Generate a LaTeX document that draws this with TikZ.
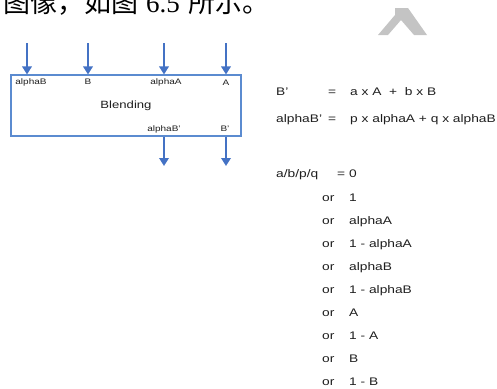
\documentclass[tikz,border=0pt]{standalone}
\usepackage{fontspec}
\setmainfont{Liberation Sans}[FakeStretch=1.25]
\newfontfamily\cjk{Noto Sans CJK SC}
\newfontfamily\numserif{Liberation Serif}
\usetikzlibrary{arrows.meta}
\definecolor{arrowblue}{HTML}{4472C4}
\definecolor{boxblue}{HTML}{5B8BD0}
\definecolor{txt}{HTML}{1E1E1E}
\definecolor{wmgray}{HTML}{C4C4C4}
\begin{document}
\begin{tikzpicture}[x=1pt,y=-1pt,
  flow/.style={draw=arrowblue, line width=1.8pt, -{Triangle[width=9.5pt,length=8pt]}},
  port/.style={font=\fontsize{8}{8}\selectfont, text=txt, inner sep=0pt, anchor=base},
  eq/.style={font=\fontsize{11}{11}\selectfont, text=txt, inner sep=0pt, anchor=base west},
  blendbox/.style={draw=boxblue, line width=1.1pt, minimum width=230pt, minimum height=61pt, inner sep=0pt, text=txt, font=\fontsize{10.5}{10.5}\selectfont}]
\useasboundingbox (0,0) rectangle (497,388);
\begin{scope}
  \clip (0,0) rectangle (497,388);
  \node[anchor=base west, inner sep=0pt, font=\cjk\fontsize{27}{27}\selectfont, text=black] (cap) at (3,12.5) {图像，如图\hspace{8pt}{\numserif 6.5}\hspace{9pt}所示。};
  \fill[wmgray] (395,8) -- (408,8) -- (427,35) -- (414,35) -- (401,20) -- (388,35) -- (378,35) -- (395,15) -- cycle;
\end{scope}
% blending box
\node[blendbox] (blend) at (126,105.5) {Blending};
\node[port] (pAlphaB) at (31,84) {alphaB};
\node[port] (pB) at (88,84) {B};
\node[port] (pAlphaA) at (166,84) {alphaA};
\node[port] (pA) at (226,85.5) {A};
\node[port] (pAlphaBo) at (164,131) {alphaB'};
\node[port] (pBo) at (225,131) {B'};
% inputs
\coordinate (iAlphaB) at (27,43);
\coordinate (iB) at (88,43);
\coordinate (iAlphaA) at (164,43);
\coordinate (iA) at (226,43);
\foreach \c in {iAlphaB,iB,iAlphaA,iA}
  \draw[flow] (\c) -- (\c |- blend.north);
% outputs
\coordinate (oAlphaB) at (164,166);
\coordinate (oB) at (226,166);
\foreach \c in {oAlphaB,oB}
  \draw[flow] (\c |- blend.south) -- (\c);
% equations
\node[eq] (e1l) at (276,95) {B'};
\node[eq] (e1m) at (328,95) {=};
\node[eq] (e1r) at (350,95) {a x A\ \ +\ \ b x B};
\node[eq] (e2l) at (276,122) {alphaB'};
\node[eq] (e2m) at (328,122) {=};
\node[eq] (e2r) at (350,122) {p x alphaA + q x alphaB};
\node[eq] (e3l) at (276,177) {a/b/p/q};
\node[eq] (e3r) at (337,177) {= 0};
\foreach \v [count=\i] in {1, alphaA, 1 - alphaA, alphaB, 1 - alphaB, A, 1 - A, B, 1 - B} {
  \node[eq] (or\i) at (322,{201+23*(\i-1)}) {or};
  \node[eq] (val\i) at (349,{201+23*(\i-1)}) {\v};
}
\end{tikzpicture}
\end{document}
